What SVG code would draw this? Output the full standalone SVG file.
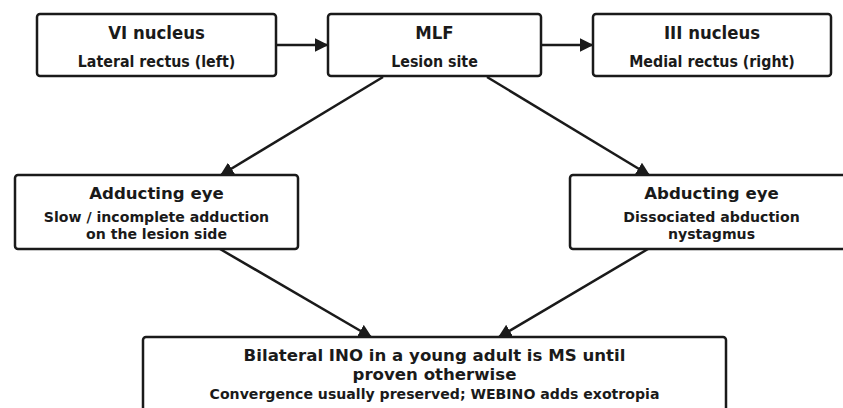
<svg xmlns="http://www.w3.org/2000/svg" width="843" height="408" viewBox="0 0 843 408">
<defs>
<marker id="ah" viewBox="0 0 10 10" refX="9" refY="5" markerWidth="5.5" markerHeight="5.5" orient="auto" markerUnits="strokeWidth">
<path d="M0,0 L10,5 L0,10 z" fill="#1a1a1a"/>
</marker>
<style>
.box{fill:#fff;stroke:#1a1a1a;stroke-width:2.5}
.t{font-family:"DejaVu Sans",sans-serif;font-weight:bold;fill:#1a1a1a;text-anchor:middle}
.h{font-size:16.6px}
.s{font-size:14.1px}
.ch{font-family:"DejaVu Sans Condensed","DejaVu Sans",sans-serif;font-size:18.4px}
.cs{font-family:"DejaVu Sans Condensed","DejaVu Sans",sans-serif;font-size:15.8px}
.e{fill:none;stroke:#1a1a1a;stroke-width:2.5;marker-end:url(#ah)}
</style>
</defs>
<rect width="843" height="408" fill="#fff"/>
<g id="edges">
<line class="e" x1="276" y1="45" x2="327" y2="45"/>
<line class="e" x1="541" y1="45" x2="592" y2="45"/>
<line class="e" x1="383" y1="77" x2="221" y2="175"/>
<line class="e" x1="487" y1="77" x2="649" y2="175"/>
<line class="e" x1="220" y1="249" x2="371" y2="337"/>
<line class="e" x1="648" y1="249" x2="499" y2="337"/>
</g>
<g id="vi">
<rect class="box" x="37" y="14" width="239" height="62" rx="3"/>
<text class="t ch" x="156.5" y="39">VI nucleus</text>
<text class="t cs" x="156.5" y="67">Lateral rectus (left)</text>
</g>
<g id="mlf">
<rect class="box" x="328" y="14" width="213" height="62" rx="3"/>
<text class="t ch" x="434.5" y="39">MLF</text>
<text class="t cs" x="434.5" y="67">Lesion site</text>
</g>
<g id="iii">
<rect class="box" x="593" y="14" width="238" height="62" rx="3"/>
<text class="t ch" x="712" y="39">III nucleus</text>
<text class="t cs" x="712" y="67">Medial rectus (right)</text>
</g>
<g id="adducting">
<rect class="box" x="15" y="175" width="283" height="74" rx="3"/>
<text class="t h" x="156.5" y="199">Adducting eye</text>
<text class="t s" x="156.5" y="222">Slow / incomplete adduction</text>
<text class="t s" x="156.5" y="239">on the lesion side</text>
</g>
<g id="abducting">
<rect class="box" x="570" y="175" width="283" height="74" rx="3"/>
<text class="t h" x="711.5" y="199">Abducting eye</text>
<text class="t s" x="711.5" y="222">Dissociated abduction</text>
<text class="t s" x="711.5" y="239">nystagmus</text>
</g>
<g id="bilateral">
<rect class="box" x="143" y="337" width="583" height="80" rx="3"/>
<text class="t h" x="434.5" y="361">Bilateral INO in a young adult is MS until</text>
<text class="t h" x="434.5" y="380">proven otherwise</text>
<text class="t s" x="434.5" y="399">Convergence usually preserved; WEBINO adds exotropia</text>
</g>
</svg>
